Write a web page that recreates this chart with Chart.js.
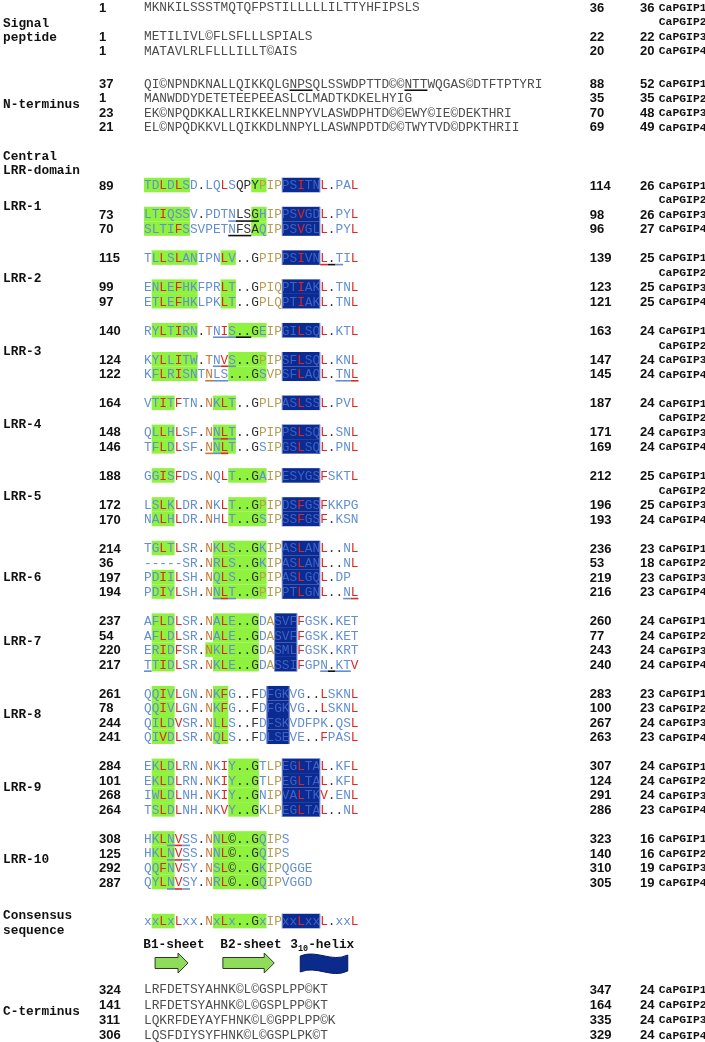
<!DOCTYPE html>
<html>
<head>
<meta charset="utf-8">
<script src="https://cdn.jsdelivr.net/npm/chart.js@4/dist/chart.umd.min.js"></script>
<style>
  html, body { margin: 0; padding: 0; background: #fff; }
  canvas { display: block; }
</style>
</head>
<body>
<canvas id="align" width="705" height="1042"></canvas>
<script>
// ---- data ----
const proteins = ['CaPGIP1', 'CaPGIP2', 'CaPGIP3', 'CaPGIP4'];

const signalSeq = ['MKNKILSSSTMQTQFPSTILLLLLILTTYHFIPSLS', null, 'METILIVL©FLSFLLLSPIALS', 'MATAVLRLFLLLILLT©AIS'];
const signalStart = [1, null, 1, 1];
const signalEnd = [36, null, 22, 20];
const signalLen = [36, null, 22, 20];

const ntermSeq = [
  'QI©NPNDKNALLQIKKQLGNPSQLSSWDPTTD©©NTTWQGAS©DTFTPTYRI',
  'MANWDDYDETETEEPEEASLCLMADTKDKELHYIG',
  'EK©NPQDKKALLRIKKELNNPYVLASWDPHTD©©EWY©IE©DEKTHRI',
  'EL©NPQDKKVLLQIKKDLNNPYLLASWNPDTD©©TWYTVD©DPKTHRII'
];
const ntermStart = [37, 1, 23, 21];
const ntermEnd = [88, 35, 70, 69];
const ntermLen = [52, 35, 48, 49];

const lrrNames = ['LRR-1', 'LRR-2', 'LRR-3', 'LRR-4', 'LRR-5', 'LRR-6', 'LRR-7', 'LRR-8', 'LRR-9', 'LRR-10'];
const lrrSeq = [
  ['TDLDLSD.LQLSQPYPIPPSITNL.PAL', null, 'LTIQSSV.PDTNLSGHIPPSVGDL.PYL', 'SLTIFSSVPETNFSAQIPPSVGLL.PYL'],
  ['TLLSLANIPNLV..GPIPPSIVNL.TIL', null, 'ENLEFHKFPRLT..GPIQPTIAKL.TNL', 'ETLEFHKLPKLT..GPLQPTIAKL.TNL'],
  ['RYLTIRN.TNIS..GEIPGILSQL.KTL', null, 'KYLLITW.TNVS..GPIPSFLSQL.KNL', 'KFLRISNTNLS...GSVPSFLAQL.TNL'],
  ['VTITFTN.NKLT..GPLPASLSSL.PVL', null, 'QLLHLSF.NNLT..GPIPPSLSQL.SNL', 'TFLDLSF.NNLT..GSIPGSLSQL.PNL'],
  ['GGISFDS.NQLT..GAIPESYGSFSKTL', null, 'LSLKLDR.NKLT..GPIPDSFGSFKKPG', 'NALHLDR.NHLT..GSIPSSFGSF.KSN'],
  ['TGLTLSR.NKLS..GKIPASLANL..NL', '-----SR.NRLS..GKIPASLANL..NL', 'PDIILSH.NQLS..GPIPASLGQL.DP', 'PDIYLSH.NNLT..GPIPPTLGNL..NL'],
  ['AFLDLSR.NALE..GDASVFFGSK.KET', 'AFLDLSR.NALE..GDASVFFGSK.KET', 'ERIDFSR.NKLE..GDASMLFGSK.KRT', 'TTIDLSR.NKLE..GDASSIFGPN.KTV'],
  ['QQIVLGN.NKFG..FDFGKVG..LSKNL', 'QQIVLGN.NKFG..FDFGKVG..LSKNL', 'QILDVSR.NLLS..FDFSKVDFPK.QSL', 'QIVDLSR.NQLS..FDLSEVE..FPASL'],
  ['EKLDLRN.NKIY..GTLPEGLTAL.KFL', 'EKLDLRN.NKIY..GTLPEGLTAL.KFL', 'IWLDLNH.NKIY..GNIPVALTKV.ENL', 'TSLDLNH.NKVY..GKLPEGLTAL..NL'],
  ['HKLNVSS.NNL©..GQIPS', 'HKLNVSS.NNL©..GQIPS', 'QQFNVSY.NSL©..GKIPQGGE', 'QYLNVSY.NRL©..GQIPVGGD']
];
const lrrStart = [[89, null, 73, 70], [115, null, 99, 97], [140, null, 124, 122], [164, null, 148, 146], [188, null, 172, 170],
  [214, 36, 197, 194], [237, 54, 220, 217], [261, 78, 244, 241], [284, 101, 268, 264], [308, 125, 292, 287]];
const lrrEnd = [[114, null, 98, 96], [139, null, 123, 121], [163, null, 147, 145], [187, null, 171, 169], [212, null, 196, 193],
  [236, 53, 219, 216], [260, 77, 243, 240], [283, 100, 267, 263], [307, 124, 291, 286], [323, 140, 310, 305]];
const lrrLen = [[26, null, 26, 27], [25, null, 25, 25], [24, null, 24, 24], [24, null, 24, 24], [25, null, 25, 24],
  [23, 18, 23, 23], [24, 24, 24, 24], [23, 23, 24, 23], [24, 24, 24, 23], [16, 16, 19, 19]];

// conserved boxes, residue index ranges (inclusive), one list per row
const lrrGreen = [
  [[[0, 5], [14, 15]], [], [[0, 5], [14, 15]], [[0, 5], [14, 15]]],
  [[[1, 6], [10, 11]], [], [[1, 6], [10, 11]], [[1, 6], [10, 11]]],
  [[[1, 6], [11, 15]], [], [[1, 6], [11, 15]], [[1, 6], [11, 15]]],
  [[[1, 3], [9, 11]], [], [[1, 3], [9, 11]], [[1, 3], [9, 11]]],
  [[[1, 3], [11, 15]], [], [[1, 3], [11, 15]], [[1, 3], [11, 15]]],
  [[[1, 3], [9, 15]], [[9, 15]], [[1, 3], [9, 15]], [[1, 3], [9, 15]]],
  [[[1, 3], [9, 14]], [[1, 3], [9, 14]], [[1, 3], [8, 14]], [[1, 3], [9, 14]]],
  [[[1, 3], [9, 10]], [[1, 3], [9, 10]], [[1, 3], [9, 10]], [[1, 3], [9, 10]]],
  [[[1, 3], [11, 14]], [[1, 3], [11, 14]], [[1, 3], [11, 14]], [[1, 3], [11, 14]]],
  [[[1, 3], [9, 15]], [[1, 3], [9, 15]], [[1, 3], [9, 15]], [[1, 3], [9, 15]]]
];
const lrrNavy = [[18, 22], [18, 22], [18, 22], [18, 22], [18, 22], [18, 22], [17, 19], [16, 18], [18, 22], null];

// underlined motifs: [block, group, row, from, to, colour key]
const underlines = [
  ['nterm', 0, 0, 19, 21, 'k'], ['nterm', 0, 0, 34, 36, 'k'],
  ['lrr', 0, 2, 11, 11, 'b'], ['lrr', 0, 2, 12, 14, 'k'], ['lrr', 0, 3, 11, 13, 'k'],
  ['lrr', 1, 0, 23, 23, 'r'], ['lrr', 1, 0, 24, 24, 'k'], ['lrr', 1, 0, 25, 25, 'b'],
  ['lrr', 2, 0, 9, 11, 'b'], ['lrr', 2, 0, 12, 13, 'k'],
  ['lrr', 2, 2, 9, 9, 'b'], ['lrr', 2, 2, 10, 10, 'r'], ['lrr', 2, 2, 11, 11, 'b'],
  ['lrr', 2, 3, 8, 8, 'o'], ['lrr', 2, 3, 9, 10, 'b'], ['lrr', 2, 3, 25, 26, 'b'], ['lrr', 2, 3, 27, 27, 'r'],
  ['lrr', 3, 2, 9, 9, 'b'], ['lrr', 3, 2, 10, 10, 'r'], ['lrr', 3, 2, 11, 11, 'b'],
  ['lrr', 3, 3, 8, 8, 'o'], ['lrr', 3, 3, 9, 9, 'b'], ['lrr', 3, 3, 10, 10, 'r'],
  ['lrr', 5, 3, 9, 9, 'b'], ['lrr', 5, 3, 10, 10, 'r'], ['lrr', 5, 3, 11, 11, 'b'], ['lrr', 5, 3, 26, 26, 'b'], ['lrr', 5, 3, 27, 27, 'r'],
  ['lrr', 6, 3, 0, 0, 'b'], ['lrr', 6, 3, 23, 23, 'b'], ['lrr', 6, 3, 24, 24, 'k'], ['lrr', 6, 3, 25, 26, 'b'],
  ['lrr', 9, 0, 3, 3, 'b'], ['lrr', 9, 0, 4, 4, 'r'], ['lrr', 9, 0, 5, 5, 'b'],
  ['lrr', 9, 1, 3, 3, 'b'], ['lrr', 9, 1, 4, 4, 'r'], ['lrr', 9, 1, 5, 5, 'b'],
  ['lrr', 9, 3, 3, 3, 'b'], ['lrr', 9, 3, 4, 4, 'r'], ['lrr', 9, 3, 5, 5, 'b']
];

const consensusSeq = 'xxLxLxx.NxLx..GxIPxxLxxL.xxL';
const consensusGreen = [[1, 3], [9, 15]];
const consensusNavy = [18, 22];
const structureLabels = ['B1-sheet', 'B2-sheet', '3', '10', '-helix'];

const ctermSeq = ['LRFDETSYAHNK©L©GSPLPP©KT', 'LRFDETSYAHNK©L©GSPLPP©KT', 'LQKRFDEYAYFHNK©L©GPPLPP©K', 'LQSFDIYSYFHNK©L©GSPLPK©T'];
const ctermStart = [324, 141, 311, 306];
const ctermEnd = [347, 164, 335, 329];
const ctermLen = [24, 24, 24, 24];

// ---- layout (x in residue columns, y in text lines) ----
const CHAR_W = 7.66, SEQ_LEFT = 144, LINE_H = 14.52, FIRST_LINE = 7;
const W = 705, H = 1042;
const COL_LABEL = -18.4, COL_START = -5.87, COL_END = 58.2, COL_LEN = 64.75, COL_NAME = 67.2;
const LINE_SIGNAL = 0, LINE_NTERM = 5.25, LINE_LRR = 12.26, LRR_STRIDE = 5;
const LINE_CONS = 62.95, LINE_SHEET = 64.53, LINE_ARROW = 65.84, LINE_CTERM = 67.63, CTERM_STEP = 1.05;

const C = {
  blue: '#628fd2', red: '#e2261d', orange: '#c7773a', tan: '#b59e52', dark: '#2f2f2f',
  plain: '#4d4d4d', green: '#8ff23f', navy: '#0b2b92', navyText: '#3d62c4', navyEdge: '#9aa8d8'
};
const ulColor = { k: '#111', b: C.blue, r: C.red, o: C.orange };
const HYDRO = [2, 4, 10, 20, 23, 27];

function residueColor(ch, pos, inNavy) {
  if (ch === '.' || ch === '©') return C.dark;
  if (ch === '-') return C.blue;
  if (HYDRO.includes(pos) && 'LIVF'.includes(ch)) return C.red;
  if (inNavy) return C.navyText;
  if (pos === 8 && 'NT'.includes(ch)) return C.orange;
  if (pos >= 12 && pos <= 14) return C.dark;
  if (pos === 16 || pos === 17 || (pos === 15 && ch === 'P')) return C.tan;
  return C.blue;
}

// build row list
const rows = [];
function addRows(block, g, base, step, seqs, st, en, ln, mode) {
  seqs.forEach((s, r) => {
    rows.push({ block, g, r, line: base + r * step, seq: s, start: st[r], end: en[r], len: ln[r], name: proteins[r], mode });
  });
}
addRows('signal', 0, LINE_SIGNAL, 1, signalSeq, signalStart, signalEnd, signalLen, 'plain');
addRows('nterm', 0, LINE_NTERM, 1, ntermSeq, ntermStart, ntermEnd, ntermLen, 'plain');
lrrSeq.forEach((grp, g) => addRows('lrr', g, LINE_LRR + g * LRR_STRIDE, 1, grp, lrrStart[g], lrrEnd[g], lrrLen[g], 'lrr'));
addRows('cterm', 0, LINE_CTERM, CTERM_STEP, ctermSeq, ctermStart, ctermEnd, ctermLen, 'plain');

const sideLabels = [
  { text: ['Signal', 'peptide'], line: LINE_SIGNAL + 1.1 },
  { text: ['N-terminus'], line: LINE_NTERM + 1.43 },
  { text: ['Central', 'LRR-domain'], line: LINE_LRR - 2 },
  ...lrrNames.map((n, g) => ({ text: [n], line: LINE_LRR + g * LRR_STRIDE + (g === 5 ? 2 : 1.42) })),
  { text: ['Consensus', 'sequence'], line: LINE_CONS - 0.4 },
  { text: ['C-terminus'], line: LINE_CTERM + 1.52 }
];

const alignPlugin = {
  id: 'alignment',
  afterDraw(chart) {
    const { ctx } = chart;
    const xs = chart.scales.x, ys = chart.scales.y;
    const px = v => xs.getPixelForValue(v);
    const py = v => ys.getPixelForValue(v);
    const rowH = Math.abs(py(1) - py(0));
    const seqFont = '12.8px "Liberation Mono", "Courier New", monospace';
    const boldMono = 'bold 12.8px "Liberation Mono", "Courier New", monospace';
    const numFont = 'bold 13px "Liberation Sans", Arial, sans-serif';

    ctx.save();
    const box = (a, b, line, color, edge) => {
      const x0 = px(a), w = px(b + 1) - px(a), y0 = py(line) - rowH / 2;
      ctx.fillStyle = color;
      ctx.fillRect(x0, y0, w, rowH);
      if (edge) {
        ctx.strokeStyle = edge;
        ctx.lineWidth = 0.8;
        ctx.beginPath();
        ctx.moveTo(x0 + 0.4, y0); ctx.lineTo(x0 + 0.4, y0 + rowH);
        ctx.moveTo(x0 + w - 0.4, y0); ctx.lineTo(x0 + w - 0.4, y0 + rowH);
        ctx.stroke();
      }
    };
    const drawSeq = (seq, line, colorFn) => {
      ctx.font = seqFont;
      ctx.textAlign = 'center';
      ctx.textBaseline = 'middle';
      [...seq].forEach((ch, i) => {
        ctx.fillStyle = colorFn(ch, i);
        ctx.fillText(ch, px(i + 0.5), py(line) + 1);
      });
    };

    // boxes first
    rows.forEach(row => {
      if (row.mode !== 'lrr' || !row.seq) return;
      lrrGreen[row.g][row.r].forEach(([a, b]) => box(a, b, row.line, C.green));
      const nv = lrrNavy[row.g];
      if (nv) box(nv[0], nv[1], row.line, C.navy, C.navyEdge);
    });
    consensusGreen.forEach(([a, b]) => box(a, b, LINE_CONS, C.green));
    box(consensusNavy[0], consensusNavy[1], LINE_CONS, C.navy, C.navyEdge);

    // sequences and numbers
    rows.forEach(row => {
      const yl = row.line;
      if (row.seq) {
        if (row.mode === 'plain') {
          drawSeq(row.seq, yl, () => C.plain);
        } else {
          const nv = lrrNavy[row.g];
          drawSeq(row.seq, yl, (ch, i) => residueColor(ch, i, nv && i >= nv[0] && i <= nv[1]));
        }
        ctx.font = numFont;
        ctx.textAlign = 'left';
        ctx.fillStyle = '#111';
        ctx.fillText(String(row.start), px(COL_START), py(yl) + 1);
        ctx.fillText(String(row.end), px(COL_END), py(yl) + 1);
        ctx.fillText(String(row.len), px(COL_LEN), py(yl) + 1);
      }
      ctx.font = 'bold 11.4px "Liberation Mono", "Courier New", monospace';
      ctx.textAlign = 'left';
      ctx.fillStyle = '#111';
      ctx.fillText(row.name, px(COL_NAME), py(yl) + 1);
    });

    // underlines
    underlines.forEach(([block, g, r, a, b, k]) => {
      const row = rows.find(o => o.block === block && o.g === g && o.r === r);
      const yy = py(row.line) + 7;
      ctx.strokeStyle = ulColor[k];
      ctx.lineWidth = 1.6;
      ctx.beginPath();
      ctx.moveTo(px(a), yy);
      ctx.lineTo(px(b + 1), yy);
      ctx.stroke();
    });

    // consensus
    drawSeq(consensusSeq, LINE_CONS, (ch, i) => {
      const inNavy = i >= consensusNavy[0] && i <= consensusNavy[1];
      if (ch === 'x') return inNavy ? C.navyText : C.blue;
      return residueColor(ch, i, inNavy);
    });

    // side labels
    ctx.font = boldMono;
    ctx.textAlign = 'left';
    ctx.fillStyle = '#111';
    sideLabels.forEach(lb => {
      lb.text.forEach((t, k) => ctx.fillText(t, px(COL_LABEL), py(lb.line + k * 0.98) + 1));
    });

    // secondary structure labels
    const ys0 = py(LINE_SHEET) + 1;
    ctx.fillText(structureLabels[0], px(-0.1), ys0);
    ctx.fillText(structureLabels[1], px(9.95), ys0);
    let hx = px(19.1);
    ctx.fillText(structureLabels[2], hx, ys0);
    hx += ctx.measureText(structureLabels[2]).width;
    ctx.font = 'bold 8.5px "Liberation Mono", monospace';
    ctx.fillText(structureLabels[3], hx, ys0 + 4);
    hx += ctx.measureText(structureLabels[3]).width;
    ctx.font = boldMono;
    ctx.fillText(structureLabels[4], hx, ys0);

    // arrows (beta sheets) and helix
    const ya = py(LINE_ARROW);
    const arrow = (c0, c1) => {
      const x0 = px(c0), x1 = px(c1), head = 10;
      ctx.beginPath();
      ctx.moveTo(x0, ya - 5.5);
      ctx.lineTo(x1 - head, ya - 5.5);
      ctx.lineTo(x1 - head, ya - 10);
      ctx.lineTo(x1, ya);
      ctx.lineTo(x1 - head, ya + 10);
      ctx.lineTo(x1 - head, ya + 5.5);
      ctx.lineTo(x0, ya + 5.5);
      ctx.closePath();
      ctx.fillStyle = '#8fdc5c';
      ctx.fill();
      ctx.strokeStyle = '#2b3a22';
      ctx.lineWidth = 1;
      ctx.stroke();
    };
    arrow(1.45, 5.75);
    arrow(10.3, 17.0);
    const hx0 = px(20.4), hx1 = px(26.6), w = hx1 - hx0;
    ctx.beginPath();
    ctx.moveTo(hx0, ya - 7);
    ctx.bezierCurveTo(hx0 + w * 0.35, ya - 14, hx0 + w * 0.65, ya + 0, hx1, ya - 8);
    ctx.lineTo(hx1, ya + 8);
    ctx.bezierCurveTo(hx0 + w * 0.65, ya + 16, hx0 + w * 0.35, ya + 2, hx0, ya + 9);
    ctx.closePath();
    ctx.fillStyle = '#0a2a8c';
    ctx.fill();
    ctx.strokeStyle = '#061a5c';
    ctx.stroke();
    ctx.restore();
  }
};

new Chart(document.getElementById('align'), {
  type: 'scatter',
  data: { datasets: [] },
  options: {
    responsive: false,
    animation: false,
    layout: { padding: 0 },
    plugins: { legend: { display: false }, tooltip: { enabled: false } },
    scales: {
      x: { type: 'linear', display: false, min: -SEQ_LEFT / CHAR_W, max: (W - SEQ_LEFT) / CHAR_W },
      y: { type: 'linear', display: false, reverse: true, min: -FIRST_LINE / LINE_H, max: (H - FIRST_LINE) / LINE_H }
    }
  },
  plugins: [alignPlugin]
});
</script>
</body>
</html>
